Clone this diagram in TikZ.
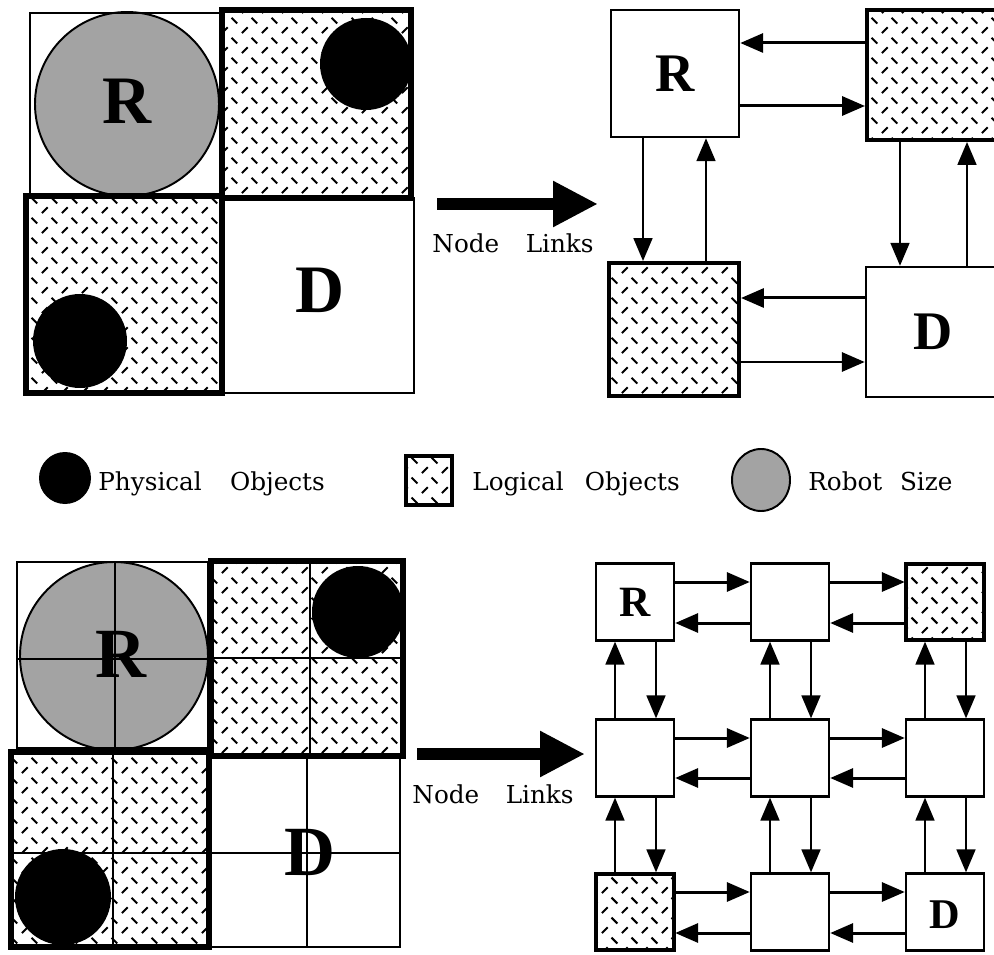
\documentclass[tikz,border=0pt]{standalone}
\usepackage{fontspec}
\setmainfont{Liberation Serif}
\newfontfamily\capfont{DejaVu Serif}
\newfontfamily\letterfont{Liberation Serif}[BoldFont={Liberation Serif Bold}]
\usetikzlibrary{arrows.meta,patterns,calc}

% diamond-plate texture used for logical objects: rows of short strokes,
% alternating "/" and "\" and shifted by half a step from row to row
\pgfdeclarepatternformonly{plate}{\pgfqpoint{0pt}{0pt}}{\pgfqpoint{11.34pt}{11.34pt}}{\pgfqpoint{11.34pt}{11.34pt}}{%
  \pgfsetlinewidth{1.2pt}%
  \pgfpathmoveto{\pgfqpoint{1.13pt}{1.13pt}}\pgfpathlineto{\pgfqpoint{4.54pt}{4.54pt}}%
  \pgfpathmoveto{\pgfqpoint{6.8pt}{10.2pt}}\pgfpathlineto{\pgfqpoint{10.2pt}{6.8pt}}%
  \pgfusepath{stroke}}

\newcommand\lbl{\capfont\fontsize{14}{16}\selectfont}
\newcommand\bigletter[1]{\letterfont\bfseries\fontsize{#1}{#1}\selectfont}

\begin{document}
\begin{tikzpicture}[x=0.5669pt,y=-0.5669pt,
  cellthin/.style={line width=1.13pt},
  cellthick/.style={line width=3.4pt},
  subline/.style={line width=0.8pt},
  robot/.style={fill=black!36,draw=black,line width=1.1pt},
  physical/.style={fill=black},
  logicfill/.style={pattern=plate},
  gbox/.style={draw,line width=1.4pt,inner sep=0pt},
  glogic/.style={gbox,line width=2.3pt,pattern=plate},
  hlink/.style={line width=1.7pt,-{Triangle[length=13pt,width=10.8pt]}},
  vlink/.style={line width=0.9pt,-{Triangle[length=13pt,width=10.8pt]}},
  bigarrow/.style={line width=6.8pt,-{Triangle[length=25.5pt,width=24.4pt]}},
  caption/.style={font=\lbl,inner sep=0pt}]

\useasboundingbox (0,0) rectangle (994,955);
\fill[white] (0,0) rectangle (994,955);
\clip (0,0) rectangle (994,955);

% ---------------- upper map: 2x2 cells ----------------
\path[logicfill] (222,10) rectangle (411,198);
\path[logicfill] (26,196) rectangle (222,393);
\begin{scope}
  \clip (222,10) rectangle (411,198);
  \fill[physical] (366,64) circle (46);
\end{scope}
\begin{scope}
  \clip (26,196) rectangle (222,393);
  \fill[physical] (80,341) circle (47);
\end{scope}
\draw[robot] (127,104) circle (92);
\draw[cellthin] (30,13) rectangle (222,197);
\draw[cellthin] (222,198) rectangle (414,393);
\draw[cellthick] (222,10) rectangle (411,198);
\draw[cellthick] (26,196) rectangle (222,393);
\node[font=\bigletter{38.5pt},inner sep=0pt] (mapR1) at (127,101) {R};
\node[font=\bigletter{38.5pt},inner sep=0pt] (mapD1) at (320,290) {D};

% conversion arrow
\coordinate (arrA) at (437,204);
\coordinate (arrB) at (598,204);
\draw[bigarrow] (arrA) -- (arrB);
\node[caption,anchor=base] (links1) at (513,253) {Node\hspace{15pt}Links};

% ---------------- upper graph: 2x2 nodes ----------------
\node[gbox,minimum width=72.6pt,minimum height=72pt,font=\bigletter{30.8pt}] (gR) at (675,73.5) {R};
\node[glogic,minimum width=74.8pt,minimum height=73.7pt] (gT) at (933,75) {};
\node[glogic,minimum width=73.7pt,minimum height=75.4pt] (gB) at (674,329.5) {};
\node[gbox,minimum width=76pt,minimum height=73.7pt,font=\bigletter{30.8pt}] (gD) at (933,332) {D};

\draw[hlink] (gT.west |- 0,43) -- (gR.east |- 0,43);
\draw[hlink] (gR.east |- 0,106) -- (gT.west |- 0,106);
\draw[vlink] (gR.south -| 643,0) -- (gB.north -| 643,0);
\draw[vlink] (gB.north -| 706,0) -- (gR.south -| 706,0);
\draw[vlink] (gT.south -| 900,0) -- (gD.north -| 900,0);
\draw[vlink] (gD.north -| 967,0) -- (gT.south -| 967,0);
\draw[hlink] (gD.west |- 0,298) -- (gB.east |- 0,298);
\draw[hlink] (gB.east |- 0,362) -- (gD.west |- 0,362);

% ---------------- legend ----------------
\fill[physical] (65,478) circle (26);
\node[caption,anchor=base west] (legP) at (98,490) {Physical\hspace{16pt}Objects};
\path[logicfill] (406,456) rectangle (452,505);
\draw[line width=2.8pt] (406,456) rectangle (452,505);
\node[caption,anchor=base west] (legL) at (472,490) {Logical\hspace{12pt}Objects};
\draw[robot] (761,480) ellipse [x radius=29,y radius=31];
\node[caption,anchor=base west] (legR) at (808,490) {Robot\hspace{10pt}Size};

% ---------------- lower map: each cell split in four ----------------
\path[logicfill] (211,561) rectangle (403,756);
\path[logicfill] (11,752) rectangle (209,947);
\begin{scope}
  \clip (211,561) rectangle (403,756);
  \fill[physical] (358,612) circle (46);
\end{scope}
\begin{scope}
  \clip (11,752) rectangle (209,947);
  \fill[physical] (63,897) circle (48);
\end{scope}
\draw[robot] (114,656) circle (94);
% quarter lines
\draw[subline] (115,562) -- (115,748) (17,659) -- (208,659);
\draw[subline] (310,561) -- (310,756) (211,658) -- (403,658);
\draw[subline] (113,752) -- (113,947) (11,853) -- (209,853);
\draw[subline] (307,756) -- (307,947) (209,853) -- (400,853);
\draw[cellthin] (17,562) rectangle (208,748);
\draw[cellthin] (209,756) rectangle (400,947);
\draw[cellthick] (211,561) rectangle (403,756);
\draw[cellthick] (11,752) rectangle (209,947);
\node[font=\bigletter{40pt},inner sep=0pt] (mapR2) at (121,654) {R};
\node[font=\bigletter{40pt},inner sep=0pt] (mapD2) at (310,852) {D};

% conversion arrow
\coordinate (arrC) at (417,754);
\coordinate (arrD) at (585,754);
\draw[bigarrow] (arrC) -- (arrD);
\node[caption,anchor=base] (links2) at (493,803) {Node\hspace{15pt}Links};

% ---------------- lower graph: 3x3 nodes ----------------
\foreach \r/\yy in {1/602,2/758,3/912}
  \foreach \c/\xx in {1/635,2/790,3/945}
    \node[gbox,minimum width=44.2pt,minimum height=43.6pt] (n\r\c) at (\xx,\yy) {};
\node[glogic,minimum width=44.2pt,minimum height=43.6pt] at (n13) {};
\node[glogic,minimum width=44.2pt,minimum height=43.6pt] at (n31) {};
\node[font=\bigletter{24.5pt},inner sep=0pt] (gR2) at (n11) {R};
\node[font=\bigletter{24pt},inner sep=0pt] (gD2) at ($(n33)+(0,3)$) {D};

% horizontal links: right-pointing above, left-pointing below
\foreach \r/\ya/\yb in {1/582/623,2/738/778,3/892/933}
  \foreach \c/\d in {1/2,2/3}{
    \draw[hlink] (n\r\c.east |- 0,\ya) -- (n\r\d.west |- 0,\ya);
    \draw[hlink] (n\r\d.west |- 0,\yb) -- (n\r\c.east |- 0,\yb);
  }
% vertical links: upward on the left, downward on the right
\foreach \c/\xa/\xb in {1/615/656,2/770/811,3/925/966}
  \foreach \r/\s in {1/2,2/3}{
    \draw[vlink] (n\s\c.north -| \xa,0) -- (n\r\c.south -| \xa,0);
    \draw[vlink] (n\r\c.south -| \xb,0) -- (n\s\c.north -| \xb,0);
  }
\end{tikzpicture}
\end{document}
